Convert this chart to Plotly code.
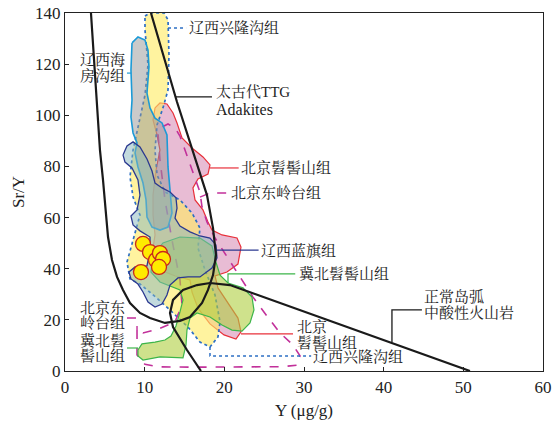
import plotly.graph_objects as go

# ---------------- data (Y in µg/g, Sr/Y) ----------------
# 辽西兴隆沟组 field
XLG_Y = [10.04, 10.67, 12.43, 12.93, 13.05, 12.93, 12.30, 11.55, 11.30, 11.55, 12.55, 14.43, 15.94, 16.94,
         16.69, 17.57, 18.83, 19.46, 19.20, 18.20, 16.94, 15.44, 13.43, 11.55, 9.41, 8.16, 7.78, 8.54,
         9.41, 8.54, 8.16, 8.54, 9.41, 10.04, 10.42, 10.04]
XLG_SRY = [138.8, 140.0, 140.0, 137.3, 123.6, 109.9, 102.9, 96.2, 86.4, 76.7, 70.0, 66.9, 61.8, 55.9,
           48.1, 39.5, 29.7, 19.2, 13.3, 9.4, 11.3, 17.2, 23.1, 28.5, 34.0, 36.0, 42.6, 51.2,
           61.0, 68.0, 75.9, 86.4, 98.2, 107.9, 119.7, 133.4]

# 辽西海房沟组 field
HFG_Y = [8.41, 9.16, 10.04, 10.42, 10.54, 10.29, 10.67, 11.30, 12.18, 12.80, 12.93, 13.18, 13.43, 12.93,
         11.92, 10.92, 10.29, 10.17, 9.79, 9.16, 8.79, 9.04, 8.54, 8.28, 8.41, 8.28]
HFG_SRY = [128.3, 130.6, 129.4, 125.5, 118.9, 108.7, 102.9, 98.9, 97.0, 92.3, 79.8, 69.6, 61.8, 56.3,
           55.1, 56.3, 60.2, 66.9, 73.5, 79.8, 85.3, 89.2, 93.1, 99.3, 106.0, 117.7]

# 北京髫髻山组 field
BJT_Y = [11.30, 11.92, 12.80, 13.56, 14.06, 14.69, 15.94, 17.32, 18.20, 17.95, 16.69, 16.06, 16.32, 17.32,
         17.95, 18.45, 19.71, 21.59, 22.09, 21.71, 20.33, 18.83, 19.20, 20.46, 21.71, 22.09, 21.46, 19.96,
         18.20, 16.69, 15.94, 15.69, 13.81, 11.92, 10.92, 11.30, 11.05, 11.05, 11.42, 11.92, 11.55, 11.05]
BJT_SRY = [102.9, 104.8, 104.4, 100.9, 97.0, 91.1, 87.2, 83.7, 80.6, 77.0, 75.1, 71.6, 66.9, 63.0,
           58.3, 55.1, 53.2, 52.0, 48.5, 41.8, 38.7, 37.2, 32.5, 26.6, 20.7, 15.3, 12.5, 14.1,
           18.4, 24.6, 30.9, 35.6, 37.2, 39.5, 45.4, 53.2, 61.0, 68.8, 78.6, 86.4, 92.3, 98.2]

# 北京东岭台组 field
DLT_Y = [9.04, 9.04, 10.04, 11.92, 16.94, 23.22, 27.36, 29.12, 29.50, 28.62, 26.99, 25.35, 23.60, 21.97,
         20.46, 18.83, 17.82, 17.20, 16.94, 16.32, 15.69, 15.06, 14.43, 13.81, 12.93, 12.18, 11.67, 11.92,
         12.55, 13.43, 14.43, 14.69, 13.81, 11.67, 9.79, 9.04]
DLT_SRY = [16.0, 6.3, 2.6, 1.6, 1.5, 1.5, 1.7, 2.3, 5.9, 10.2, 14.9, 21.5, 28.9, 36.8,
           44.2, 52.0, 58.3, 64.1, 70.0, 75.5, 80.6, 86.4, 91.9, 95.0, 96.6, 95.4, 93.1, 82.5,
           66.9, 51.2, 35.6, 25.8, 19.2, 16.4, 14.9, 16.0]

# 辽西蓝旗组 field
LQ_Y = [7.28, 7.78, 8.54, 9.41, 10.29, 10.92, 11.30, 12.18, 13.18, 13.93, 14.06, 13.81, 14.43, 15.69,
        16.94, 18.20, 18.95, 19.08, 18.45, 16.94, 15.44, 14.18, 13.18, 12.80, 12.18, 11.30, 10.42, 9.79,
        9.16, 8.28, 8.03, 8.79, 10.29, 10.67, 10.67, 9.41, 8.54, 8.28, 9.04, 9.41, 9.16, 8.41, 7.53]
LQ_SRY = [84.5, 88.0, 89.6, 87.6, 82.9, 78.2, 73.5, 71.6, 70.0, 67.7, 63.7, 59.8, 56.7, 54.4,
          52.8, 52.0, 49.3, 44.2, 40.3, 36.8, 36.8, 36.4, 33.6, 29.7, 26.2, 25.0, 27.0, 30.9,
          34.0, 36.0, 38.7, 40.7, 41.1, 47.3, 52.4, 54.8, 57.1, 60.6, 63.0, 68.8, 74.7, 79.4, 81.7]

# 冀北髫髻山组 field
JBT_Y = [9.16, 9.66, 11.30, 12.55, 13.30, 13.93, 14.43, 14.81, 14.43, 13.18, 11.92, 10.79, 11.05, 12.30,
         14.43, 16.94, 18.45, 18.95, 19.46, 20.46, 22.34, 23.47, 23.72, 23.22, 22.22, 20.96, 19.71, 18.20,
         16.57, 15.69, 15.31, 15.19, 14.81, 11.92, 9.79, 9.16]
JBT_SRY = [8.2, 10.6, 11.3, 12.1, 13.7, 17.6, 23.1, 27.8, 31.7, 33.2, 34.8, 38.7, 45.4, 50.1,
           52.4, 52.0, 48.9, 42.6, 37.5, 34.4, 32.5, 28.9, 23.9, 18.8, 15.6, 16.0, 18.0, 21.1,
           22.7, 20.7, 16.0, 10.2, 5.1, 5.5, 4.3, 5.9]

# Archean TTG / adakite boundary
ADK_Y = [3.26, 3.64, 4.02, 4.39, 4.77, 5.15, 5.40, 5.90, 6.53, 7.28, 8.16, 9.41, 10.67, 12.55,
         14.43, 15.69, 17.20, 17.95, 18.58, 18.95, 18.58, 17.82, 14.06, 10.79]
ADK_SRY = [140.0, 121.6, 102.1, 86.4, 74.7, 61.0, 52.4, 43.4, 36.8, 31.7, 26.6, 22.7, 20.7, 18.8,
           19.6, 21.1, 26.6, 31.7, 37.5, 45.4, 55.9, 68.8, 105.2, 140.0]

# normal island-arc field boundary
ARC_Y = [17.07, 15.31, 13.56, 13.18, 13.56, 14.81, 16.57, 18.20, 20.71, 50.83]
ARC_SRY = [0.0, 8.2, 17.2, 22.7, 27.8, 31.7, 33.6, 34.4, 33.6, 0.0]

# samples
SAMPLE_Y = [9.79, 10.67, 11.42, 11.92, 12.30, 11.80, 9.54]
SAMPLE_SRY = [49.7, 46.5, 43.4, 46.1, 43.8, 40.7, 38.7]

X_TICKS = [0, 10, 20, 30, 40, 50, 60]
Y_TICKS = [0, 20, 40, 60, 80, 100, 120, 140]

FONT = "Liberation Serif, Noto Serif CJK SC, Noto Sans CJK SC, serif"

fig = go.Figure()


def field(xs, ys, fill, line, width=1.3, dash="solid"):
    fig.add_trace(go.Scatter(
        x=xs + xs[:1], y=ys + ys[:1], mode="lines",
        fill="toself" if fill else None, fillcolor=fill,
        line=dict(color=line, width=width, dash=dash),
        hoverinfo="skip", showlegend=False))


def leader(xs, ys, color, dash="solid", width=1.2):
    fig.add_trace(go.Scatter(x=xs, y=ys, mode="lines",
                             line=dict(color=color, width=width, dash=dash),
                             hoverinfo="skip", showlegend=False))


field(BJT_Y, BJT_SRY, "rgba(217,143,183,0.6)", "#E8303A", 1.2)
field(XLG_Y, XLG_SRY, "rgba(255,236,100,0.62)", "#2D6FC4", 1.7, "dot")
field(DLT_Y, DLT_SRY, None, "#C2309A", 1.6, "dash")
field(JBT_Y, JBT_SRY, "rgba(175,207,63,0.6)", "#3DB54A", 1.2)
field(HFG_Y, HFG_SRY, "rgba(150,150,150,0.5)", "#1C9AD6", 1.6)
field(LQ_Y, LQ_SRY, "rgba(133,181,189,0.5)", "#2B3990", 1.3)

# leader lines
leader([12.93, 15.2], [134.1, 134.1], "#2D6FC4", "dot", 1.5)
leader([7.78, 8.3], [116.5, 116.5], "#1C9AD6")
leader([13.9, 18.45], [107.2, 107.2], "#1a1a1a", width=1.3)
leader([18.2, 21.8], [79.4, 79.4], "#E8303A")
leader([16.94, 18.2, 20.5], [68.0, 69.6, 69.6], "#C2309A", "dash", 1.4)
leader([19.08, 24.3], [47.3, 47.3], "#2B3990")
leader([20.46, 20.46, 28.9], [34.4, 38.0, 38.0], "#3DB54A")
leader([41.04, 41.04, 44.8], [11.3, 23.9, 23.9], "#1a1a1a", width=1.3)
leader([7.78, 9.04, 9.04], [20.7, 20.7, 16.0], "#C2309A", "dash", 1.4)
leader([7.78, 9.16], [9.0, 9.0], "#3DB54A")
leader([22.09, 28.62], [14.5, 14.5], "#E8303A")
leader([18.2, 18.2, 30.9], [9.4, 5.9, 5.9], "#2D6FC4", "dot", 1.5)

# boundaries
fig.add_trace(go.Scatter(x=ADK_Y, y=ADK_SRY, mode="lines", line=dict(color="#1a1a1a", width=2.2),
                         hoverinfo="skip", showlegend=False))
fig.add_trace(go.Scatter(x=ARC_Y, y=ARC_SRY, mode="lines", line=dict(color="#1a1a1a", width=2.2),
                         hoverinfo="skip", showlegend=False))

# samples
fig.add_trace(go.Scatter(x=SAMPLE_Y, y=SAMPLE_SRY, mode="markers",
                         marker=dict(size=15, color="#FFEB00", line=dict(color="#C8281E", width=1.3)),
                         showlegend=False))

# label lines: text, x, y, anchor, size
labels = [
    ("辽西兴隆沟组", 15.4, 134.3, "left", 15),
    ("辽西海", 7.7, 121.6, "right", 15),
    ("房沟组", 7.7, 115.4, "right", 15),
    ("太古代TTG", 18.8, 109.1, "left", 15),
    ("Adakites", 18.8, 102.1, "left", 16),
    ("北京髫髻山组", 22.0, 79.4, "left", 15),
    ("北京东岭台组", 20.7, 69.6, "left", 15),
    ("辽西蓝旗组", 24.5, 47.3, "left", 15),
    ("冀北髫髻山组", 29.2, 38.1, "left", 15),
    ("正常岛弧", 44.9, 28.9, "left", 15),
    ("中酸性火山岩", 44.9, 22.7, "left", 15),
    ("北京东", 7.7, 24.6, "right", 15),
    ("岭台组", 7.7, 18.8, "right", 15),
    ("冀北髫", 7.7, 12.1, "right", 15),
    ("髻山组", 7.7, 5.9, "right", 15),
    ("北京", 29.0, 17.2, "left", 15),
    ("髫髻山组", 29.0, 11.0, "left", 15),
    ("辽西兴隆沟组", 31.0, 5.6, "left", 15),
]
for text, x, y, anchor, size in labels:
    fig.add_annotation(x=x, y=y, text=text, showarrow=False, xanchor=anchor, yanchor="middle",
                       align=anchor, borderpad=0,
                       font=dict(family=FONT, size=size, color="#222222"))

axis_common = dict(showline=True, mirror=True, linecolor="#222222", linewidth=1.3, ticks="inside",
                   ticklen=4, tickcolor="#222222", showgrid=False, zeroline=False, automargin=False,
                   ticklabeloverflow="allow",
                   tickfont=dict(family=FONT, size=17, color="#222222"))

fig.update_layout(
    width=554, height=429,
    margin=dict(l=65, r=11, t=13, b=58),
    paper_bgcolor="white", plot_bgcolor="white",
    xaxis=dict(range=[0, 60], tickvals=X_TICKS,
               title=dict(text="Y (μg/g)", font=dict(family=FONT, size=17, color="#222222"), standoff=8),
               **axis_common),
    yaxis=dict(range=[0, 140], tickvals=Y_TICKS,
               title=dict(text="Sr/Y", font=dict(family=FONT, size=17, color="#222222"), standoff=6),
               **axis_common),
)

# remove the browser's default page margin so the figure fills the window exactly
fig.write_html("out.html",
               config={"displayModeBar": False},
               post_script="document.body.style.margin='0';"
                           "document.documentElement.style.overflow='hidden';")
